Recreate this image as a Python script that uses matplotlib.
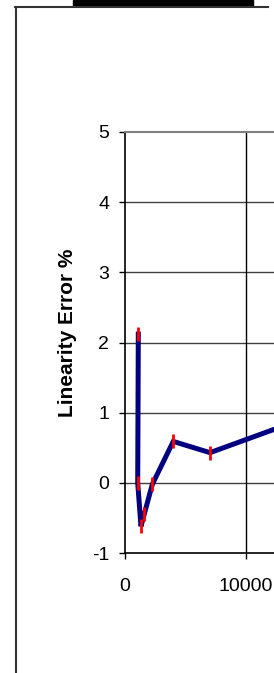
import matplotlib
matplotlib.use("Agg")
import matplotlib.pyplot as plt
from matplotlib.lines import Line2D
from matplotlib.patches import Rectangle

# data
sample_x = [1100, 1050, 1320, 1600, 2260, 3990, 7025, 15000]
lin_err = [2.12, 0.0, -0.62, -0.44, -0.02, 0.59, 0.43, 0.93]
err_bar = [0.1, 0.1, 0.1, 0.1, 0.1, 0.1, 0.1, 0.1]
y_ticks = [-1, 0, 1, 2, 3, 4, 5]
x_ticks = [0, 10000, 20000, 30000]

W, H = 274, 673
plt.rcParams["font.family"] = ["Liberation Sans", "DejaVu Sans"]
plt.rcParams["axes.unicode_minus"] = False
fig = plt.figure(figsize=(W / 100, H / 100), dpi=100)

# axes: x=0 at px 125, 10000 at px 246; y=5 at px 132, -1 at px 553
px_per_unit = 121.0 / 10000
x_max = 30000
ax = fig.add_axes([125 / W, 1 - 553 / H, x_max * px_per_unit / W, 421 / H])
ax.set_xlim(0, x_max)
ax.set_ylim(-1, 5)
ax.set_xticks(x_ticks)
ax.set_yticks(y_ticks)
ax.set_xticklabels([str(v) for v in x_ticks])

for y in y_ticks[1:-1]:
    ax.axhline(y, color="#404040", lw=1.0, zorder=1)
for x in x_ticks[1:]:
    ax.axvline(x, color="black", lw=1.0, zorder=1)

ax.spines["right"].set_visible(False)
ax.spines["top"].set_color("#808080")
ax.spines["top"].set_linewidth(1.5)
ax.spines["left"].set_linewidth(1.2)
ax.spines["bottom"].set_linewidth(1.2)

ax.tick_params(axis="y", direction="out", length=4.5, width=1, pad=7, labelsize=14)
ax.tick_params(axis="x", direction="out", length=4, width=1, pad=14, labelsize=14)

ax.plot(sample_x, lin_err, color="#000080", lw=3.6, zorder=3, solid_joinstyle="miter")
ax.errorbar(sample_x, lin_err, yerr=err_bar, fmt="none", ecolor="red",
            elinewidth=2, capsize=0, zorder=4)

fig.text(67.5 / W, 1 - 333 / H, "Linearity Error %", rotation=90, ha="center",
         va="center", fontsize=15, fontweight="bold")

# outer frame and the black bar above it
fig.add_artist(Line2D([15.5 / W, 15.5 / W], [0, 1 - 6.5 / H], color="#333333", lw=1.5))
fig.add_artist(Line2D([15 / W, 268 / W], [1 - 6.5 / H, 1 - 6.5 / H], color="#333333", lw=1.5))
fig.add_artist(Rectangle((73 / W, 1 - 5.5 / H), 180 / W, 5.5 / H, color="black",
                         transform=fig.transFigure))

fig.savefig("out.png", dpi=100)
